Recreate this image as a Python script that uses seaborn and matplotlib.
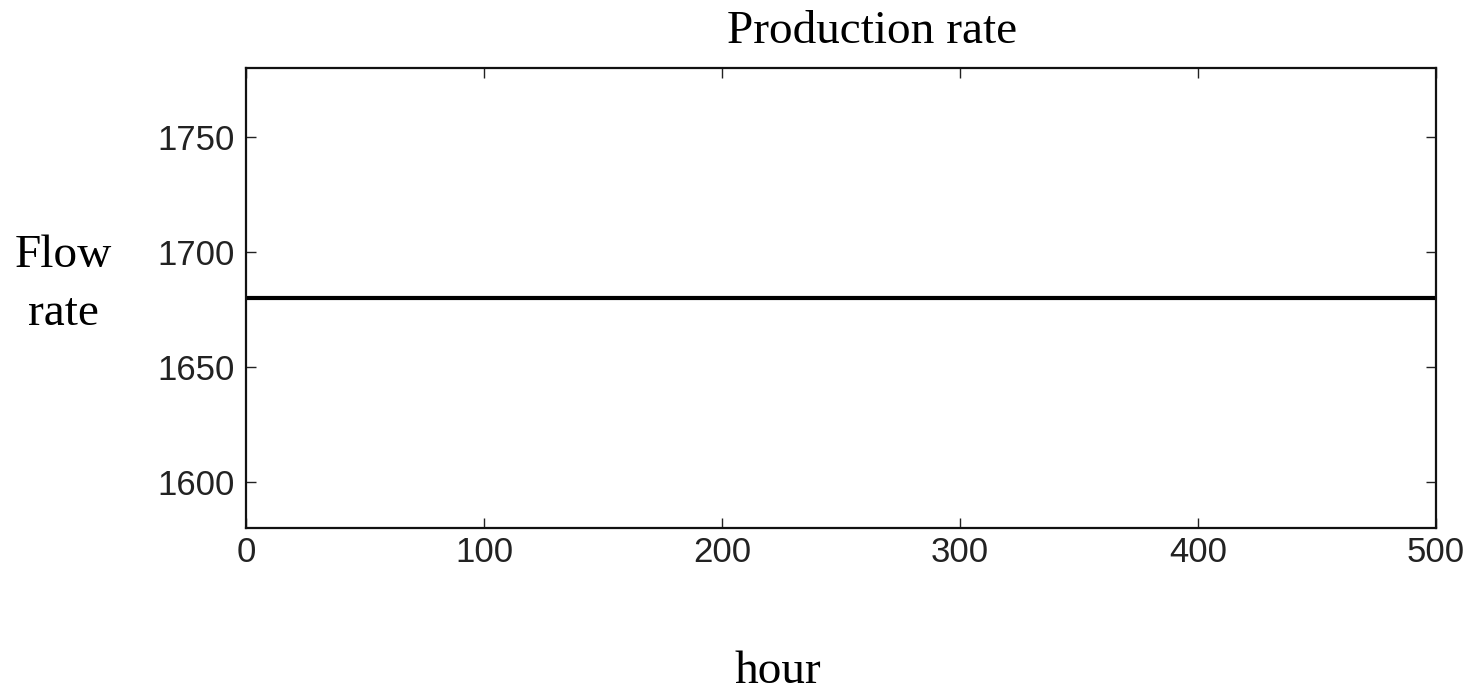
import matplotlib
matplotlib.use("Agg")
import matplotlib.pyplot as plt
import seaborn as sns
import pandas as pd

# Production data: flow rate over the operating period (hours)
hours = [0, 500]
flow_rate = [1680, 1680]
x_ticks = [0, 100, 200, 300, 400, 500]
y_ticks = [1600, 1650, 1700, 1750]

df = pd.DataFrame({"hour": hours, "flow": flow_rate})

sns.set_style("ticks")
plt.rcParams["font.family"] = ["Liberation Sans", "DejaVu Sans"]

W, H = 1466, 691
fig = plt.figure(figsize=(W / 100, H / 100), dpi=100)
ax = fig.add_axes([246 / W, 1 - 528 / H, (1436 - 246) / W, (528 - 68) / H])

sns.lineplot(data=df, x="hour", y="flow", ax=ax, color="black", linewidth=3)

ax.set_xlim(0, 500)
ax.set_ylim(1580, 1780)
ax.set_xticks(x_ticks)
ax.set_yticks(y_ticks)
ax.set_xlabel("")
ax.set_ylabel("")

for side in ["top", "right", "bottom", "left"]:
    ax.spines[side].set_visible(True)
    ax.spines[side].set_linewidth(1.6)
    ax.spines[side].set_color("#111111")

ax.tick_params(axis="both", direction="in", length=7, width=1,
               top=True, right=True, labelsize=25, colors="#222222")
ax.tick_params(axis="x", pad=6)
ax.tick_params(axis="y", pad=8)

serif = ["Liberation Serif", "DejaVu Serif"]
fig.text(872 / W, 1 - 43 / H, "Production rate", ha="center", va="baseline",
         fontsize=34, family=serif, color="black")
fig.text(778 / W, 1 - 683 / H, "hour", ha="center", va="baseline",
         fontsize=34, family=serif, color="black")
fig.text(63 / W, 1 - 267 / H, "Flow", ha="center", va="baseline",
         fontsize=34, family=serif, color="black")
fig.text(63 / W, 1 - 325 / H, "rate", ha="center", va="baseline",
         fontsize=34, family=serif, color="black")

fig.savefig("out.png", dpi=100, facecolor="white")
